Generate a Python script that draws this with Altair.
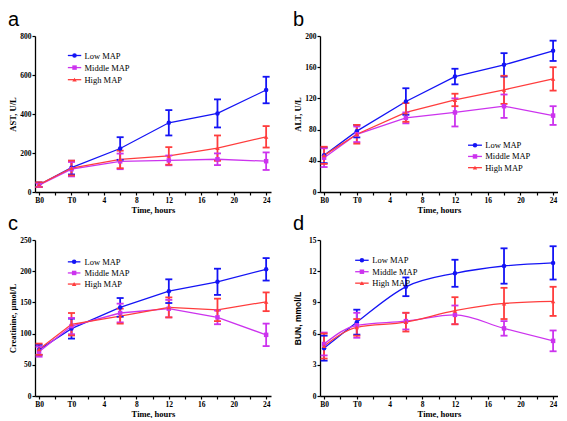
import altair as alt
import pandas as pd

# ---------------- data ----------------
groups = ["Low MAP", "Middle MAP", "High MAP"]
colors = ["#1414f5", "#cc33ee", "#ff3d3d"]
shapes = ["circle", "square", "triangle-up"]

# time positions (B0 drawn at -4, T0 at 0)
time_pos = [-4, 0, 6, 12, 18, 24]
x_tick_values = [-4, -2, 0, 2, 4, 6, 8, 10, 12, 14, 16, 18, 20, 22, 24]
x_tick_labels = ["B0", "", "T0", "", "4", "", "8", "", "12", "", "16", "", "20", "", "24"]

# panel a: AST
ast_low = [37, 125, 223, 355, 403, 523]
ast_low_err = [12, 35, 58, 65, 72, 68]
ast_mid = [35, 117, 157, 162, 168, 158]
ast_mid_err = [10, 37, 40, 25, 30, 45]
ast_high = [38, 123, 167, 185, 225, 283]
ast_high_err = [12, 38, 45, 45, 65, 55]

# panel b: ALT
alt_low = [47, 78, 116, 148, 163, 181]
alt_low_err = [10, 8, 17, 10, 15, 13]
alt_mid = [44, 74, 95, 102, 110, 98]
alt_mid_err = [12, 10, 7, 18, 15, 12]
alt_high = [47, 74, 102, 118, 131, 145]
alt_high_err = [11, 12, 12, 8, 18, 15]

# panel c: Creatinine
cr_low = [74, 108, 142, 168, 183, 203]
cr_low_err = [8, 16, 15, 19, 21, 18]
cr_mid = [71, 112, 133, 140, 126, 98]
cr_mid_err = [8, 13, 15, 14, 11, 18]
cr_high = [75, 115, 128, 142, 138, 151]
cr_high_err = [9, 18, 12, 16, 18, 15]

# panel d: BUN
bun_low = [4.6, 7.1, 10.5, 11.8, 12.5, 12.8]
bun_low_err = [1.2, 1.2, 0.9, 1.3, 1.7, 1.6]
bun_mid = [5.0, 6.8, 7.2, 7.8, 6.5, 5.3]
bun_mid_err = [1.1, 1.2, 0.8, 0.9, 0.7, 1.0]
bun_high = [4.8, 6.6, 7.1, 8.2, 8.9, 9.1]
bun_high_err = [1.2, 0.8, 0.9, 1.3, 1.5, 1.4]

SERIF = "Liberation Serif"
SANS = "Liberation Sans"

label_expr = (
    "[" + ",".join("'%s'" % s for s in x_tick_labels) + "][indexof(["
    + ",".join(str(v) for v in x_tick_values) + "], datum.value)]"
)


def make_df(series):
    rows = []
    for g, (means, errs) in zip(groups, series):
        for t, m, e in zip(time_pos, means, errs):
            rows.append({"group": g, "x": t, "mean": m, "lo": m - e, "hi": m + e})
    return pd.DataFrame(rows)


def panel(series, ymax, ystep, ytitle, letter, leg, width, height,
          ytitle_font=SERIF, interp="linear"):
    df = make_df(series)
    yvals = [ystep * i for i in range(int(round(ymax / ystep)) + 1)]
    xs = alt.Scale(domain=[-4.5, 24.6], nice=False, zero=False)
    ys = alt.Scale(domain=[0, ymax], nice=False, zero=True)
    xaxis = alt.Axis(values=x_tick_values, labelExpr=label_expr, title="Time, hours",
                     grid=False, labelFont=SERIF, labelFontWeight="bold",
                     labelFontSize=7.5, labelColor="black", titleFont=SERIF,
                     titleFontWeight="bold", titleFontSize=8.5, titleColor="black",
                     tickSize=3, tickWidth=1.2, tickColor="black", domainColor="black",
                     domainWidth=1.3, labelPadding=1, titlePadding=2, labelFlush=False,
                     labelOverlap=False)
    yaxis = alt.Axis(values=yvals, title=ytitle, grid=False, labelFont=SERIF,
                     labelFontWeight="bold", labelFontSize=7.5, labelColor="black",
                     titleFont=ytitle_font, titleFontWeight="bold", titleFontSize=8.5,
                     titleColor="black", tickSize=3, tickWidth=1.2, tickColor="black",
                     domainColor="black", domainWidth=1.3, labelPadding=1,
                     titlePadding=2, minExtent=16, maxExtent=16, labelOverlap=False,
                     labelFlush=False)
    color = alt.Color("group:N", scale=alt.Scale(domain=groups, range=colors), legend=None)
    shape = alt.Shape("group:N", scale=alt.Scale(domain=groups, range=shapes), legend=None)

    def X(f):
        return alt.X(f, scale=xs, axis=xaxis)

    def Y(f):
        return alt.Y(f, scale=ys, axis=yaxis)

    base = alt.Chart(df)
    line = base.mark_line(strokeWidth=1.3, interpolate=interp).encode(
        x=X("x:Q"), y=Y("mean:Q"), color=color)
    bars = base.mark_rule(strokeWidth=1.8).encode(
        x=X("x:Q"), y=Y("lo:Q"), y2="hi:Q", color=color)
    cap_lo = base.mark_rule(strokeWidth=1.8, xOffset=-3.5, x2Offset=3.5).encode(
        x=X("x:Q"), x2="x:Q", y=Y("lo:Q"), color=color)
    cap_hi = base.mark_rule(strokeWidth=1.8, xOffset=-3.5, x2Offset=3.5).encode(
        x=X("x:Q"), x2="x:Q", y=Y("hi:Q"), color=color)
    pts = base.mark_point(filled=True, size=20, opacity=1).encode(
        x=X("x:Q"), y=Y("mean:Q"), color=color, shape=shape)

    # legend drawn inside the plot area
    lx1, lx2, lxt, ly0, ldy = leg
    ldf = pd.DataFrame({
        "group": groups,
        "lx1": [lx1] * 3, "lx2": [lx2] * 3,
        "lxm": [(lx1 + lx2) / 2] * 3, "lxt": [lxt] * 3,
        "ly": [ly0 - ldy * i for i in range(3)],
    })
    lbase = alt.Chart(ldf)
    lrule = lbase.mark_rule(strokeWidth=1.3).encode(
        x=X("lx1:Q"), x2="lx2:Q", y=Y("ly:Q"), color=color)
    lpt = lbase.mark_point(filled=True, size=20, opacity=1).encode(
        x=X("lxm:Q"), y=Y("ly:Q"), color=color, shape=shape)
    ltxt = lbase.mark_text(align="left", baseline="middle", font=SERIF,
                           fontSize=8.5, color="black").encode(
        x=X("lxt:Q"), y=Y("ly:Q"), text="group:N")

    return alt.layer(line, bars, cap_lo, cap_hi, pts, lrule, lpt, ltxt).properties(
        width=width, height=height,
        title=alt.TitleParams(letter, anchor="start", frame="bounds", font=SANS,
                              fontSize=20, fontWeight="normal", color="black",
                              dx=0, offset=2),
    )


H = 156
pa = panel([(ast_low, ast_low_err), (ast_mid, ast_mid_err), (ast_high, ast_high_err)],
           800, 200, "AST, U/L", "a", (-0.45, 1.2, 1.6, 700, 62), 236, H)
pb = panel([(alt_low, alt_low_err), (alt_mid, alt_mid_err), (alt_high, alt_high_err)],
           200, 40, "ALT, U/L", "b", (13.6, 15.3, 15.7, 60, 14.4), 238, H)
pc = panel([(cr_low, cr_low_err), (cr_mid, cr_mid_err), (cr_high, cr_high_err)],
           250, 50, "Creatinine, \u00b5mol/L", "c", (-0.45, 1.1, 1.6, 215, 17.8), 236, H)
pd_ = panel([(bun_low, bun_low_err), (bun_mid, bun_mid_err), (bun_high, bun_high_err)],
            15, 3, "BUN, mmol/L", "d", (-0.2, 1.45, 1.9, 13.05, 1.1), 238, H,
            ytitle_font=SANS, interp="monotone")

chart = alt.concat(pa, pb, pc, pd_, columns=2, spacing={"row": 0, "column": 22}).properties(
    padding={"left": 0, "top": 2, "right": 0, "bottom": 0},
    background="white",
).configure_view(stroke=None).configure_axis(labelOverlap=False)

chart.save("out.html", embed_options={"renderer": "svg", "actions": False})
